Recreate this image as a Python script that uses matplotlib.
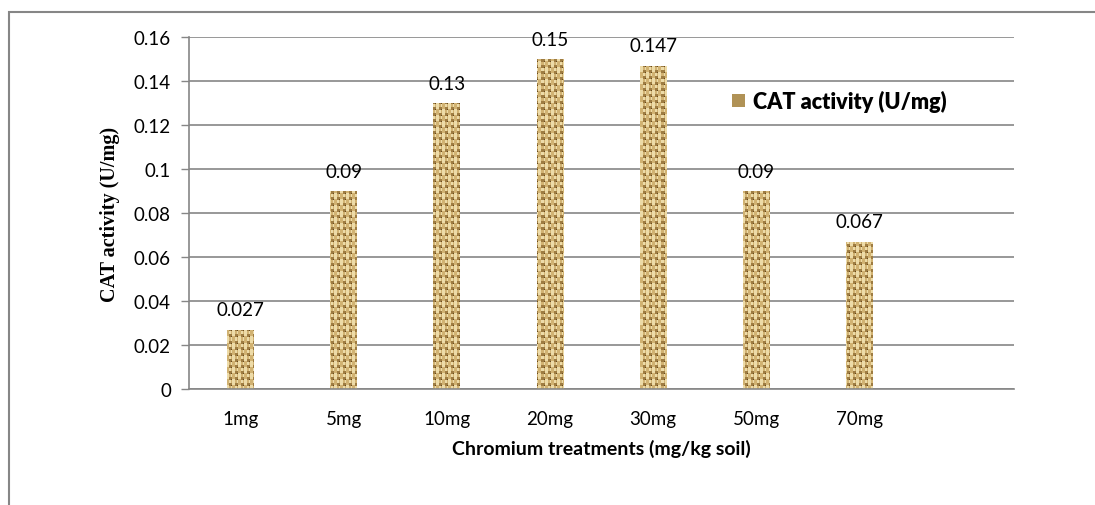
import numpy as np
import matplotlib
matplotlib.use('Agg')
import matplotlib.pyplot as plt
from matplotlib.patches import Rectangle, Patch

# data
treatments = ['1mg', '5mg', '10mg', '20mg', '30mg', '50mg', '70mg']
cat_activity = [0.027, 0.09, 0.13, 0.15, 0.147, 0.09, 0.067]
value_labels = ['0.027', '0.09', '0.13', '0.15', '0.147', '0.09', '0.067']
yticks = [0, 0.02, 0.04, 0.06, 0.08, 0.1, 0.12, 0.14, 0.16]
ytick_labels = ['0', '0.02', '0.04', '0.06', '0.08', '0.1', '0.12', '0.14', '0.16']

sans = 'Lato'
grid_col = '#868686'

W, H = 1095, 506
fig = plt.figure(figsize=(W/100, H/100), dpi=100)
ax = fig.add_axes([189/W, 1-390/H, 825/W, 352/H])

x = np.arange(len(treatments))
bars = ax.bar(x, cat_activity, width=0.26, color='#c9ad72', linewidth=0, zorder=2)

# burlap-like plain weave texture (fixed tile), clipped to each bar
def weave_tile():
    light = np.array([0.93, 0.86, 0.66])
    base = np.array([0.82, 0.70, 0.45])
    shade = np.array([0.62, 0.49, 0.26])
    dark = np.array([0.40, 0.29, 0.12])
    t = np.zeros((12, 12, 3))
    t[:] = base
    for r in range(12):
        for c in range(12):
            v = c % 6 in (1, 2, 3)     # vertical strand
            h = r % 6 in (1, 2, 3)     # horizontal strand
            over_v = ((r // 6) + (c // 6)) % 2 == 0
            if v and h:
                t[r, c] = light if over_v else base
            elif v:
                t[r, c] = light if over_v else base
            elif h:
                t[r, c] = base if over_v else light
            elif c % 6 == 0 and r % 6 == 0:
                t[r, c] = dark
            else:
                t[r, c] = shade
    return t

tile = weave_tile()
tex = np.tile(tile, (30, 70, 1))[:352, :825]
for b in bars:
    im = ax.imshow(tex, extent=(-0.5, 7.5, 0, 0.16), aspect='auto',
                   interpolation='nearest', zorder=2.5)
    im.set_clip_path(b)

ax.set_xlim(-0.5, 7.5)
ax.set_ylim(0, 0.16)
ax.set_yticks(yticks)
ax.set_yticklabels(ytick_labels, fontsize=13.5, family=sans)
ax.set_xticks(x)
ax.set_xticklabels(treatments, fontsize=13.5, family=sans)
ax.tick_params(axis='x', length=0, pad=15)
ax.tick_params(axis='y', length=6, width=1, color=grid_col, pad=7, direction='out')
ax.yaxis.grid(True, color=grid_col, linewidth=1.2, zorder=0)
ax.set_axisbelow(True)
for s in ['top', 'right']:
    ax.spines[s].set_visible(False)
for s in ['left', 'bottom']:
    ax.spines[s].set_color(grid_col)
    ax.spines[s].set_linewidth(1.2)

for xi, v, lab in zip(x, cat_activity, value_labels):
    ax.annotate(lab, (xi, v), xytext=(0, 8), textcoords='offset points',
                ha='center', va='bottom', fontsize=13.5, family=sans, zorder=4)

ax.set_xlabel('Chromium treatments (mg/kg soil)', fontsize=14, family=sans,
              fontweight='bold', labelpad=9)
ax.set_ylabel('CAT activity (U/mg)', fontsize=14.5, family='Liberation Serif',
              fontweight='bold', labelpad=10)

handle = Patch(facecolor='#b09256', edgecolor='none')
leg = ax.legend([handle], ['CAT activity (U/mg)'], loc='center left',
                bbox_to_anchor=(0.645, 0.818), frameon=False, handlelength=0.6,
                handleheight=0.6, handletextpad=0.4, borderpad=0,
                prop={'family': sans, 'weight': 'heavy', 'size': 15.5})

# outer chart border (cut off at right and bottom like the reference)
fig.patches.append(Rectangle((9/W, -0.1), 1.2, 1.1 - 13/H, transform=fig.transFigure,
                             fill=False, edgecolor=grid_col, linewidth=1.5))

fig.savefig('out.png', dpi=100)
